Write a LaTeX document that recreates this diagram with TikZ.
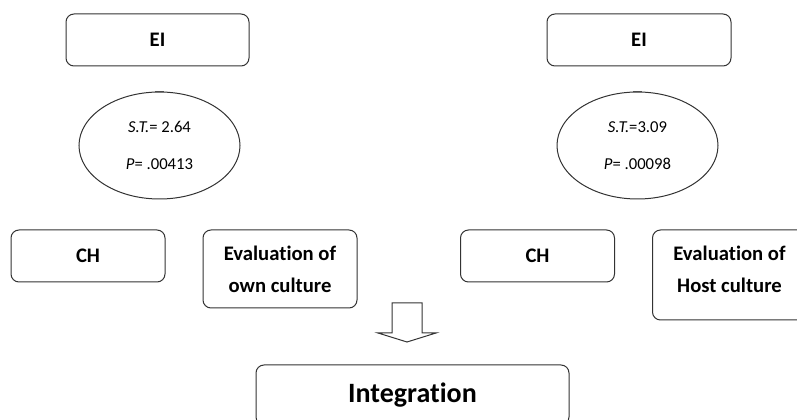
\documentclass[tikz,border=0pt]{standalone}
\usepackage{fontspec}
\setmainfont{Carlito}[Ligatures=NoCommon]
\usepackage{tikz}
\usetikzlibrary{shapes.geometric, positioning}

\tikzset{
  box/.style={draw=black!80, line width=0.75pt, rounded corners=6pt, inner sep=0pt,
    minimum width=115.5pt, minimum height=39pt, align=center,
    font=\fontsize{15.5}{24}\selectfont\bfseries},
  oval/.style={draw=black!80, line width=0.75pt, ellipse, inner sep=0pt,
    minimum width=120.75pt, minimum height=80.25pt, align=center,
    font=\fontsize{12.5}{27.75}\selectfont},
  tick/.style={draw=black!70, line width=1pt}
}

\begin{document}
\begin{tikzpicture}[x=0.75pt, y=-0.75pt]
\clip (0,0) rectangle (797,420);
\node[box, minimum width=137.25pt] (eiL) at (157.5,40) {EI};
\node[box, minimum width=138pt] (eiR) at (639,40) {EI};
\node[oval] (stL) at (159.5,145.5) {\textit{S.T.}= 2.64\\\textit{P}= .00413};
\node[oval] (stR) at (637.5,145.5) {\textit{S.T.}=3.09\\\textit{P}= .00098};
\draw[tick] ([xshift=-3.5pt]stL.north) -- ([xshift=3.5pt]stL.north);
\draw[tick] ([xshift=-3.5pt]stR.north) -- ([xshift=3.5pt]stR.north);
\node[box] (chL) at (88,256) {CH};
\node[box, minimum height=58.5pt] (evL) at (280,269) {Evaluation of\\own culture};
\node[box] (chR) at (537.5,256) {CH};
\node[box, minimum height=67.5pt, text depth=9pt] (evR) at (729.5,275) {Evaluation of\\Host culture};
\node[box, minimum width=234.75pt, minimum height=45pt,
  font=\fontsize{21}{25}\selectfont\bfseries] (integ) at (412.5,395) {Integration};
\draw[black!80, line width=0.75pt] (392,303) -- (422,303) -- (422,333) -- (436,333)
  -- (407,342) -- (378,333) -- (392,333) -- cycle;
\end{tikzpicture}
\end{document}
